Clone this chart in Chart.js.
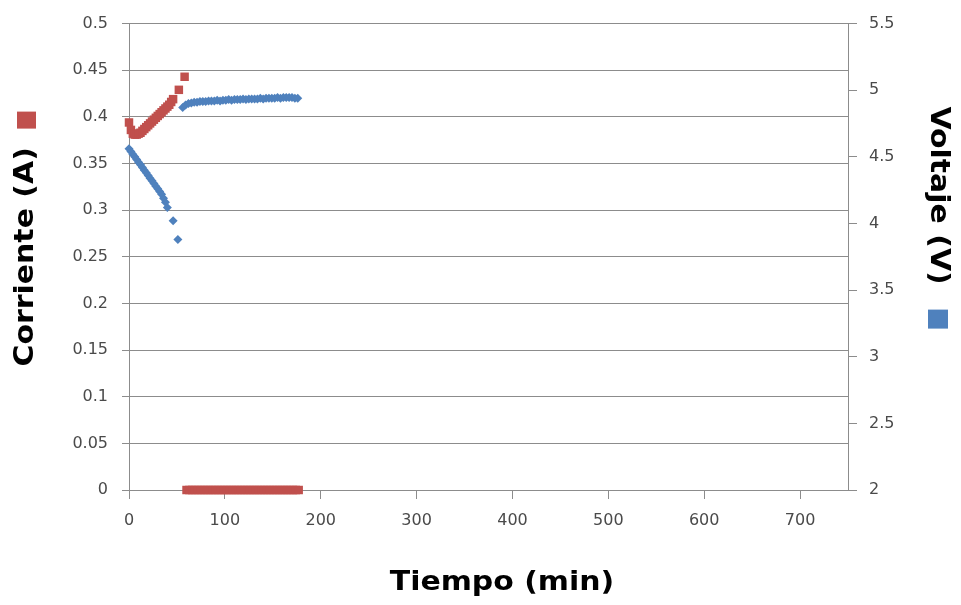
<!DOCTYPE html>
<html>
<head>
<meta charset="utf-8">
<script src="https://cdn.jsdelivr.net/npm/chart.js@4/dist/chart.umd.min.js"></script>
<style>
  html, body { margin: 0; padding: 0; background: #fff; }
  #wrap { width: 961px; height: 605px; }
</style>
</head>
<body>
<div id="wrap"><canvas id="chart"></canvas></div>
<script>
// Corriente (A): descarga inicial, luego en cero
const currentTime = [0, 2, 4, 6, 8, 10, 12, 14, 16, 18, 20, 22, 24, 26, 28, 30, 32, 34, 36, 38, 40, 42, 44, 46, 52, 58,
  60, 63, 66, 69, 72, 75, 78, 81, 84, 87, 90, 93, 96, 99, 102, 105, 108, 111, 114, 117,
  120, 123, 126, 129, 132, 135, 138, 141, 144, 147, 150, 153, 156, 159, 162, 165, 168, 171, 174, 177];
const currentAmps = [0.394, 0.386, 0.382, 0.381, 0.381, 0.382, 0.383, 0.385, 0.387, 0.389, 0.391, 0.393, 0.395, 0.397,
  0.399, 0.401, 0.403, 0.405, 0.407, 0.409, 0.411, 0.413, 0.416, 0.419, 0.429, 0.443,
  0, 0, 0, 0, 0, 0, 0, 0, 0, 0, 0, 0, 0, 0, 0, 0, 0, 0, 0, 0,
  0, 0, 0, 0, 0, 0, 0, 0, 0, 0, 0, 0, 0, 0, 0, 0, 0, 0, 0, 0];

// Voltaje (V)
const voltageTime = [0, 2, 4, 6, 8, 10, 12, 14, 16, 18, 20, 22, 24, 26, 28, 30, 32, 34, 36, 38, 40, 46, 51,
  56, 59, 62, 65, 68, 71, 74, 77, 80, 83, 86, 89, 92, 95, 98, 101, 104, 107, 110, 113, 116, 119,
  122, 125, 128, 131, 134, 137, 140, 143, 146, 149, 152, 155, 158, 161, 164, 167, 170, 173, 176];
const voltageVolts = [4.56, 4.54, 4.52, 4.50, 4.48, 4.46, 4.44, 4.42, 4.40, 4.38, 4.36, 4.34, 4.32, 4.30, 4.28, 4.26,
  4.24, 4.22, 4.19, 4.16, 4.12, 4.02, 3.88,
  4.87, 4.89, 4.90, 4.905, 4.91, 4.91, 4.915, 4.915, 4.915, 4.92, 4.92, 4.92, 4.925, 4.92, 4.925, 4.925,
  4.93, 4.925, 4.93, 4.93, 4.93, 4.935, 4.93, 4.935, 4.935, 4.935, 4.935, 4.94, 4.935, 4.94, 4.94, 4.94,
  4.94, 4.945, 4.94, 4.945, 4.945, 4.945, 4.945, 4.94, 4.94];

const xTicks = [0, 100, 200, 300, 400, 500, 600, 700];

const RED = '#C0504D';
const BLUE = '#4F81BD';
const GRID = '#8c8c8c';
const TICK_TEXT = '#4a4a4a';

const toPoints = (xs, ys) => xs.map((x, i) => ({ x: x, y: ys[i] }));

// titulos de ejes con su cuadro de serie al lado
function drawCaption(ctx, text, x, y, angle) {
    ctx.save();
    ctx.translate(x, y);
    ctx.rotate(angle);
    ctx.scale(1.15, 1);
    ctx.font = 'bold 26px "DejaVu Sans"';
    ctx.fillStyle = '#000';
    ctx.textAlign = 'center';
    ctx.textBaseline = 'middle';
    ctx.fillText(text, 0, 0);
    ctx.restore();
}

const captions = {
    id: 'captions',
    afterDraw(chart) {
        const { ctx, chartArea: a } = chart;
        drawCaption(ctx, 'Corriente (A)', a.left - 103, (a.top + a.bottom) / 2, -Math.PI / 2);
        drawCaption(ctx, 'Voltaje (V)', a.right + 90, a.top + 172, Math.PI / 2);
        drawCaption(ctx, 'Tiempo (min)', a.left + 373, a.bottom + 93, 0);

        ctx.fillStyle = RED;
        ctx.fillRect(a.left - 112, a.top + 88, 19, 17);
        ctx.fillStyle = BLUE;
        ctx.fillRect(a.right + 80, a.top + 286, 20, 19);
    }
};

new Chart(document.getElementById('chart'), {
    type: 'scatter',
    data: {
        datasets: [{
            label: 'Corriente (A)',
            data: toPoints(currentTime, currentAmps),
            yAxisID: 'y',
            clip: false,
            pointStyle: 'rect',
            pointRadius: 6,
            backgroundColor: RED,
            borderColor: RED,
            borderWidth: 0
        }, {
            label: 'Voltaje (V)',
            data: toPoints(voltageTime, voltageVolts),
            yAxisID: 'y1',
            clip: false,
            pointStyle: 'rectRot',
            pointRadius: 4.5,
            backgroundColor: BLUE,
            borderColor: BLUE,
            borderWidth: 0
        }]
    },
    options: {
        responsive: true,
        maintainAspectRatio: false,
        animation: false,
        layout: { padding: { top: 20, left: 0, right: 0, bottom: 0 } },
        plugins: {
            legend: { display: false },
            tooltip: { enabled: false }
        },
        scales: {
            x: {
                type: 'linear',
                min: 0,
                max: 750,
                afterBuildTicks: s => { s.ticks = xTicks.map(v => ({ value: v })); },
                afterFit: s => { s.height = 115; },
                grid: { display: true, drawOnChartArea: false, tickLength: 9, tickColor: GRID },
                border: { display: true, color: GRID },
                ticks: { padding: 12, color: TICK_TEXT, font: { family: 'DejaVu Sans', size: 16 } }
            },
            y: {
                position: 'left',
                min: 0,
                max: 0.5,
                ticks: {
                    stepSize: 0.05,
                    padding: 14,
                    color: TICK_TEXT,
                    font: { family: 'DejaVu Sans', size: 16 },
                    callback: v => String(+v.toFixed(2))
                },
                afterFit: s => { s.width = 129; },
                grid: { color: GRID, tickLength: 7, tickColor: GRID },
                border: { display: true, color: GRID }
            },
            y1: {
                position: 'right',
                min: 2,
                max: 5.5,
                ticks: {
                    stepSize: 0.5,
                    padding: 12,
                    color: TICK_TEXT,
                    font: { family: 'DejaVu Sans', size: 16 },
                    callback: v => String(+v.toFixed(1))
                },
                afterFit: s => { s.width = 113; },
                grid: { drawOnChartArea: false, tickLength: 9, tickColor: GRID },
                border: { display: true, color: GRID }
            }
        }
    },
    plugins: [captions]
});
</script>
</body>
</html>
